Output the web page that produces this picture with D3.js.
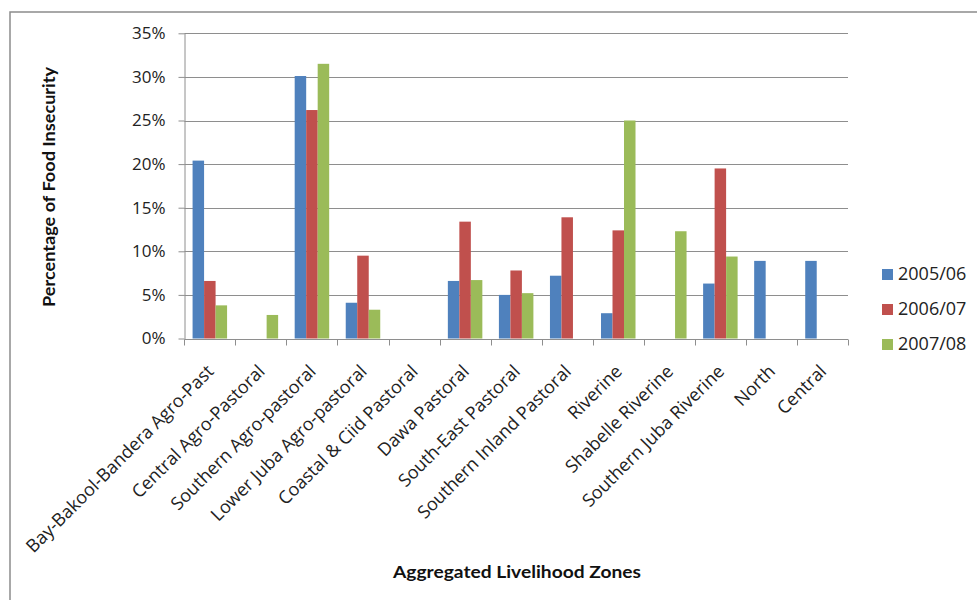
<!DOCTYPE html>
<html>
<head>
<meta charset="utf-8">
<script src="https://cdn.jsdelivr.net/npm/d3@7"></script>
<style>
  html, body { margin: 0; padding: 0; background: #fff; }
  svg { display: block; font-family: "Open Sans", "Lato", sans-serif; }
</style>
</head>
<body>
<svg id="chart" width="977" height="600"></svg>
<script>
// Aggregated livelihood zones and share of food-insecure population per season
const zones = [
  "Bay-Bakool-Bandera Agro-Past",
  "Central Agro-Pastoral",
  "Southern Agro-pastoral",
  "Lower Juba Agro-pastoral",
  "Coastal & Ciid Pastoral",
  "Dawa Pastoral",
  "South-East Pastoral",
  "Southern Inland Pastoral",
  "Riverine",
  "Shabelle Riverine",
  "Southern Juba Riverine",
  "North",
  "Central"
];
const seasons = ["2005/06", "2006/07", "2007/08"];
const colors = ["#4F81BD", "#C0504D", "#9BBB59"];

// Percent values; null where a zone had no estimate for that season
const values2005 = [20.4, null, 30.1, 4.1, null, 6.6, 5.0, 7.2, 2.9, null, 6.3, 8.9, 8.9];
const values2006 = [6.6, null, 26.2, 9.5, null, 13.4, 7.8, 13.9, 12.4, null, 19.5, null, null];
const values2007 = [3.8, 2.7, 31.5, 3.3, null, 6.7, 5.2, null, 25.0, 12.3, 9.4, null, null];
const seriesValues = [values2005, values2006, values2007];

const yTicks = [0, 5, 10, 15, 20, 25, 30, 35];

const svg = d3.select("#chart");

// Outer chart frame
svg.append("rect")
  .attr("x", 10).attr("y", 12)
  .attr("width", 990).attr("height", 620)
  .attr("fill", "none").attr("stroke", "#8c8c8c").attr("stroke-width", 1.5);

const plot = { left: 184.3, right: 848, top: 33.3, bottom: 338.5 };

const x = d3.scaleBand().domain(zones).range([plot.left, plot.right]).paddingInner(0).paddingOuter(0);
const xs = d3.scaleBand().domain(seasons).range([0, x.bandwidth()]).paddingInner(0).paddingOuter(0.72);
const y = d3.scaleLinear().domain([0, 35]).range([plot.bottom, plot.top]);

// Horizontal gridlines
svg.append("g").selectAll("line").data(yTicks.filter(t => t > 0)).join("line")
  .attr("x1", plot.left).attr("x2", plot.right)
  .attr("y1", d => Math.round(y(d)) + 0.5).attr("y2", d => Math.round(y(d)) + 0.5)
  .attr("stroke", "#8e8e8e").attr("stroke-width", 1);

// Bars
const rows = [];
seriesValues.forEach((vals, si) => vals.forEach((v, ci) => {
  if (v != null) rows.push({ zone: zones[ci], season: seasons[si], value: v, color: colors[si] });
}));
svg.append("g").selectAll("rect").data(rows).join("rect")
  .attr("x", d => x(d.zone) + xs(d.season))
  .attr("width", xs.bandwidth())
  .attr("y", d => y(d.value))
  .attr("height", d => y(0) - y(d.value))
  .attr("fill", d => d.color);

// Y axis
const yAxis = svg.append("g").attr("transform", `translate(${Math.round(plot.left) + 0.5},0)`)
  .call(d3.axisLeft(y).tickValues(yTicks).tickFormat(d => d + "%").tickSize(6).tickSizeOuter(0));
yAxis.select(".domain").attr("stroke", "#8e8e8e");
yAxis.selectAll(".tick line").attr("stroke", "#8e8e8e");
yAxis.selectAll(".tick text")
  .attr("x", -19)
  .attr("font-size", 17).attr("fill", "#222")
  .attr("font-family", "Open Sans");

// X axis: baseline with ticks at category boundaries
const xAxisG = svg.append("g").attr("transform", `translate(0,${Math.round(plot.bottom) + 0.5})`);
xAxisG.append("line").attr("x1", plot.left).attr("x2", plot.right).attr("stroke", "#8e8e8e");
const boundaries = zones.map(z => x(z)).concat([plot.right]);
xAxisG.selectAll("line.tk").data(boundaries).join("line").attr("class", "tk")
  .attr("x1", d => Math.round(d) + 0.5).attr("x2", d => Math.round(d) + 0.5)
  .attr("y1", 0).attr("y2", 6).attr("stroke", "#8e8e8e");

// Rotated category labels
svg.append("g").selectAll("text").data(zones).join("text")
  .attr("transform", d => `translate(${x(d) + x.bandwidth() / 2 + 5},${plot.bottom + 34}) rotate(-45)`)
  .attr("text-anchor", "end")
  .attr("font-size", 18).attr("fill", "#222")
  .text(d => d);

// Axis titles
svg.append("text")
  .attr("x", 517).attr("y", 578)
  .attr("text-anchor", "middle")
  .attr("font-family", "Lato").attr("font-weight", "bold").attr("font-size", 17)
  .attr("textLength", 248).attr("lengthAdjust", "spacingAndGlyphs")
  .attr("fill", "#111")
  .text("Aggregated Livelihood Zones");

svg.append("text")
  .attr("transform", "translate(55,187) rotate(-90)")
  .attr("text-anchor", "middle")
  .attr("font-family", "Lato").attr("font-weight", "bold").attr("font-size", 17)
  .attr("textLength", 240).attr("lengthAdjust", "spacingAndGlyphs")
  .attr("fill", "#111")
  .text("Percentage of Food Insecurity");

// Legend
const legend = svg.append("g").selectAll("g").data(seasons).join("g")
  .attr("transform", (d, i) => `translate(882,${274 + i * 35})`);
legend.append("rect").attr("x", 0).attr("y", -5).attr("width", 11).attr("height", 11)
  .attr("fill", (d, i) => colors[i]);
legend.append("text").attr("x", 16).attr("y", 0).attr("dy", "0.36em")
  .attr("font-size", 18).attr("fill", "#222")
  .text(d => d);
</script>
</body>
</html>
